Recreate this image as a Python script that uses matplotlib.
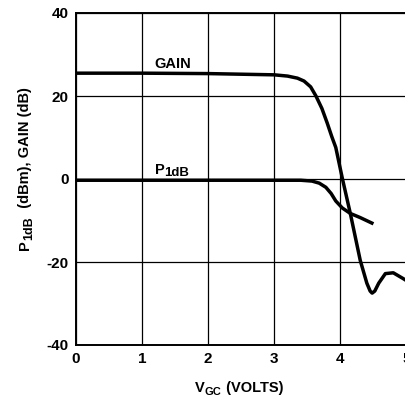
import matplotlib
matplotlib.use("Agg")
import matplotlib.pyplot as plt
from matplotlib.transforms import IdentityTransform

plt.rcParams['font.family'] = ['Liberation Sans', 'DejaVu Sans']
plt.rcParams['font.weight'] = 'bold'

gain_x = [0, 1, 2, 3.0, 3.2, 3.35, 3.45, 3.55, 3.63, 3.72, 3.80, 3.87, 3.93, 4.03,
          4.15, 4.30, 4.40, 4.45, 4.48, 4.52, 4.58, 4.68, 4.80, 4.95, 5.0]
gain_y = [25.5, 25.5, 25.4, 25.1, 24.8, 24.3, 23.6, 22.2, 20.0, 17.0, 13.5, 10.2, 7.6, 0.1,
          -8.3, -19.6, -25.1, -27.0, -27.5, -27.0, -25.1, -22.8, -22.6, -24.0, -24.5]

p1db_x = [0, 1, 2, 3, 3.4, 3.57, 3.68, 3.78, 3.86, 3.93, 4.03, 4.15, 4.30, 4.50]
p1db_y = [-0.3, -0.3, -0.3, -0.3, -0.3, -0.5, -1.0, -2.0, -3.5, -5.3, -7.0, -8.3, -9.3, -10.8]

x_ticks = [0, 1, 2, 3, 4, 5]
y_ticks = [-40, -20, 0, 20, 40]

fig = plt.figure(figsize=(4.05, 4.0), dpi=100)
ax = fig.add_axes([0.1877, 0.1375, 0.816, 0.83])

ax.plot(gain_x, gain_y, color='black', lw=2.5, solid_joinstyle='round', solid_capstyle='butt', zorder=3)
ax.plot(p1db_x, p1db_y, color='black', lw=2.5, solid_joinstyle='round', solid_capstyle='butt', zorder=3)

ax.set_xlim(0, 5)
ax.set_ylim(-40, 40)
ax.set_xticks(x_ticks)
ax.set_yticks(y_ticks)
ax.set_xticklabels([str(v) for v in x_ticks], fontsize=11, fontweight='bold')
ax.set_yticklabels([str(v) for v in y_ticks], fontsize=11, fontweight='bold')
ax.tick_params(axis='x', length=0, pad=5)
ax.tick_params(axis='y', length=0, pad=5.5)
ax.grid(True, color='black', lw=0.9)
for s in ['left', 'bottom', 'top']:
    ax.spines[s].set_linewidth(1.4)
ax.spines['right'].set_visible(False)

renderer = fig.canvas.get_renderer()


def chain(x, y, parts, rot=0):
    """Draw pieces of text one after another, starting at pixel (x, y) on the baseline."""
    for s, size, drop in parts:
        if rot == 0:
            px, py = x, y - drop
        else:
            px, py = x + drop, y
        t = fig.text(px, py, s, fontsize=size, fontweight='bold',
                     transform=IdentityTransform(), ha='left', va='baseline',
                     rotation=rot, rotation_mode='anchor')
        bb = t.get_window_extent(renderer)
        if rot == 0:
            x += bb.width
        else:
            y += bb.height


# in-plot labels
ax.text(1.19, 26.8, 'GAIN', fontsize=10.5, fontweight='bold', ha='left', va='baseline')
gx, gy = ax.transData.transform((1.19, 1.3))
chain(gx, gy, [('P', 10.5, 0), ('1dB', 9.5, 2)])

# axis labels
chain(195, 8, [('V', 10.5, 0), ('GC', 8, 3), (' (VOLTS)', 10.5, 0)])
chain(29, 150, [('P', 10.5, 0), ('1dB', 9, 3), ('  (dBm), GAIN (dB)', 10.5, 0)], rot=90)

fig.savefig('out.png', dpi=100)
